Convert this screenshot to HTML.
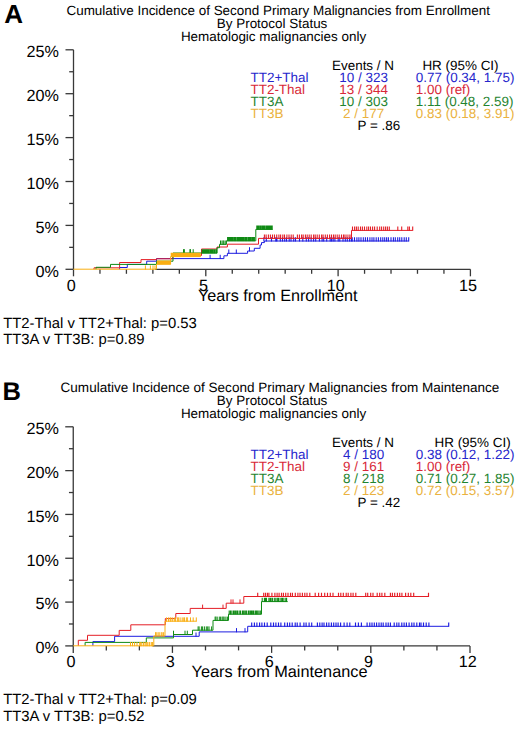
<!DOCTYPE html>
<html><head><meta charset="utf-8"><style>
html,body{margin:0;padding:0;background:#fff;}
svg{display:block;text-rendering:geometricPrecision;font-family:"Liberation Sans", sans-serif;}
</style></head><body>
<svg width="520" height="730" viewBox="0 0 520 730">
<rect width="520" height="730" fill="#fff"/>
<text x="4.20" y="22.60" font-size="26" fill="#000" text-anchor="start" font-weight="bold">A</text>
<text x="66.50" y="15.00" font-size="13.45" fill="#000" text-anchor="start" font-weight="normal">Cumulative Incidence of Second Primary Malignancies from Enrollment</text>
<text x="216.80" y="28.20" font-size="13.45" fill="#000" text-anchor="start" font-weight="normal">By Protocol Status</text>
<text x="180.90" y="40.80" font-size="13.45" fill="#000" text-anchor="start" font-weight="normal">Hematologic malignancies only</text>
<line x1="73.50" y1="49.80" x2="73.50" y2="269.30" stroke="#383838" stroke-width="1.3"/>
<line x1="65.50" y1="49.80" x2="73.50" y2="49.80" stroke="#383838" stroke-width="1.3"/>
<line x1="69.20" y1="71.75" x2="73.50" y2="71.75" stroke="#383838" stroke-width="1.3"/>
<line x1="65.50" y1="93.70" x2="73.50" y2="93.70" stroke="#383838" stroke-width="1.3"/>
<line x1="69.20" y1="115.65" x2="73.50" y2="115.65" stroke="#383838" stroke-width="1.3"/>
<line x1="65.50" y1="137.60" x2="73.50" y2="137.60" stroke="#383838" stroke-width="1.3"/>
<line x1="69.20" y1="159.55" x2="73.50" y2="159.55" stroke="#383838" stroke-width="1.3"/>
<line x1="65.50" y1="181.50" x2="73.50" y2="181.50" stroke="#383838" stroke-width="1.3"/>
<line x1="69.20" y1="203.45" x2="73.50" y2="203.45" stroke="#383838" stroke-width="1.3"/>
<line x1="65.50" y1="225.40" x2="73.50" y2="225.40" stroke="#383838" stroke-width="1.3"/>
<line x1="69.20" y1="247.35" x2="73.50" y2="247.35" stroke="#383838" stroke-width="1.3"/>
<line x1="65.50" y1="269.30" x2="73.50" y2="269.30" stroke="#383838" stroke-width="1.3"/>
<text x="58.80" y="57.10" font-size="16.2" fill="#000" text-anchor="end" font-weight="normal">25%</text>
<text x="58.80" y="101.00" font-size="16.2" fill="#000" text-anchor="end" font-weight="normal">20%</text>
<text x="58.80" y="144.90" font-size="16.2" fill="#000" text-anchor="end" font-weight="normal">15%</text>
<text x="58.80" y="188.80" font-size="16.2" fill="#000" text-anchor="end" font-weight="normal">10%</text>
<text x="58.80" y="232.70" font-size="16.2" fill="#000" text-anchor="end" font-weight="normal">5%</text>
<text x="58.80" y="276.60" font-size="16.2" fill="#000" text-anchor="end" font-weight="normal">0%</text>
<line x1="155.00" y1="269.30" x2="470.40" y2="269.30" stroke="#383838" stroke-width="1.3"/>
<line x1="73.50" y1="269.30" x2="73.50" y2="276.30" stroke="#383838" stroke-width="1.3"/>
<line x1="99.96" y1="269.30" x2="99.96" y2="273.80" stroke="#383838" stroke-width="1.3"/>
<line x1="126.42" y1="269.30" x2="126.42" y2="273.80" stroke="#383838" stroke-width="1.3"/>
<line x1="152.88" y1="269.30" x2="152.88" y2="273.80" stroke="#383838" stroke-width="1.3"/>
<line x1="179.34" y1="269.30" x2="179.34" y2="273.80" stroke="#383838" stroke-width="1.3"/>
<line x1="205.80" y1="269.30" x2="205.80" y2="276.30" stroke="#383838" stroke-width="1.3"/>
<line x1="232.26" y1="269.30" x2="232.26" y2="273.80" stroke="#383838" stroke-width="1.3"/>
<line x1="258.72" y1="269.30" x2="258.72" y2="273.80" stroke="#383838" stroke-width="1.3"/>
<line x1="285.18" y1="269.30" x2="285.18" y2="273.80" stroke="#383838" stroke-width="1.3"/>
<line x1="311.64" y1="269.30" x2="311.64" y2="273.80" stroke="#383838" stroke-width="1.3"/>
<line x1="338.10" y1="269.30" x2="338.10" y2="276.30" stroke="#383838" stroke-width="1.3"/>
<line x1="364.56" y1="269.30" x2="364.56" y2="273.80" stroke="#383838" stroke-width="1.3"/>
<line x1="391.02" y1="269.30" x2="391.02" y2="273.80" stroke="#383838" stroke-width="1.3"/>
<line x1="417.48" y1="269.30" x2="417.48" y2="273.80" stroke="#383838" stroke-width="1.3"/>
<line x1="443.94" y1="269.30" x2="443.94" y2="273.80" stroke="#383838" stroke-width="1.3"/>
<line x1="470.40" y1="269.30" x2="470.40" y2="276.30" stroke="#383838" stroke-width="1.3"/>
<text x="71.20" y="290.70" font-size="16.2" fill="#000" text-anchor="middle" font-weight="normal">0</text>
<text x="203.50" y="290.70" font-size="16.2" fill="#000" text-anchor="middle" font-weight="normal">5</text>
<text x="335.80" y="290.70" font-size="16.2" fill="#000" text-anchor="middle" font-weight="normal">10</text>
<text x="468.10" y="290.70" font-size="16.2" fill="#000" text-anchor="middle" font-weight="normal">15</text>
<text x="332.00" y="70.40" font-size="13.45" fill="#000" text-anchor="start" font-weight="normal">Events / N</text>
<text x="422.40" y="70.40" font-size="13.45" fill="#000" text-anchor="start" font-weight="normal">HR (95% CI)</text>
<text x="250.50" y="82.00" font-size="13.45" fill="#2626cc" text-anchor="start" font-weight="normal">TT2+Thal</text>
<text x="363.60" y="82.00" font-size="13.45" fill="#2626cc" text-anchor="middle" font-weight="normal">10 / 323</text>
<text x="415.80" y="82.00" font-size="13.45" fill="#2626cc" text-anchor="start" font-weight="normal">0.77 (0.34, 1.75)</text>
<text x="250.50" y="93.90" font-size="13.45" fill="#d82838" text-anchor="start" font-weight="normal">TT2-Thal</text>
<text x="363.60" y="93.90" font-size="13.45" fill="#d82838" text-anchor="middle" font-weight="normal">13 / 344</text>
<text x="415.80" y="93.90" font-size="13.45" fill="#d82838" text-anchor="start" font-weight="normal">1.00 (ref)</text>
<text x="250.50" y="105.80" font-size="13.45" fill="#1f8430" text-anchor="start" font-weight="normal">TT3A</text>
<text x="363.60" y="105.80" font-size="13.45" fill="#1f8430" text-anchor="middle" font-weight="normal">10 / 303</text>
<text x="415.80" y="105.80" font-size="13.45" fill="#1f8430" text-anchor="start" font-weight="normal">1.11 (0.48, 2.59)</text>
<text x="250.50" y="117.70" font-size="13.45" fill="#eab240" text-anchor="start" font-weight="normal">TT3B</text>
<text x="363.60" y="117.70" font-size="13.45" fill="#eab240" text-anchor="middle" font-weight="normal">2 / 177</text>
<text x="415.80" y="117.70" font-size="13.45" fill="#eab240" text-anchor="start" font-weight="normal">0.83 (0.18, 3.91)</text>
<text x="357.50" y="130.30" font-size="13.45" fill="#000" text-anchor="start" font-weight="normal">P = .86</text>
<text x="198.00" y="300.80" font-size="16.2" fill="#000" text-anchor="start" font-weight="normal">Years from Enrollment</text>
<text x="3.20" y="327.80" font-size="14.85" fill="#000" text-anchor="start" font-weight="normal">TT2-Thal v TT2+Thal: p=0.53</text>
<text x="3.20" y="344.40" font-size="14.85" fill="#000" text-anchor="start" font-weight="normal">TT3A v TT3B: p=0.89</text>
<path d="M119.58999999999999,269.3H119.6V267.5H127.3V264.4H146.7V261.2H156.5V258.6H223.9V255.8H227.4V253.3H247.6V251.0H254.3V248.3H260.1V245.0H261.5V242.6H264.4V241.0H408.7" fill="none" stroke="#1c1ce0" stroke-width="1.0"/>
<path d="M210.1,259.0v-4.2M220.2,259.0v-4.2" fill="none" stroke="#1c1ce0" stroke-width="1.0"/>
<path d="M228.8,253.7v-4.2M236.3,253.7v-4.2" fill="none" stroke="#1c1ce0" stroke-width="1.0"/>
<path d="M249.5,251.4v-4.2" fill="none" stroke="#1c1ce0" stroke-width="1.0"/>
<path d="M263.9,241.4v-4.2M266.3,241.4v-4.2M271.5,241.4v-4.2M275.8,241.4v-4.2M276.9,241.4v-4.2M280.3,241.4v-4.2M282.5,241.4v-4.2M284.7,241.4v-4.2M286.5,241.4v-4.2M289.2,241.4v-4.2M291.0,241.4v-4.2M293.7,241.4v-4.2M295.5,241.4v-4.2M299.5,241.4v-4.2M302.8,241.4v-4.2M306.3,241.4v-4.2M308.6,241.4v-4.2M311.1,241.4v-4.2M313.6,241.4v-4.2M315.7,241.4v-4.2M319.4,241.4v-4.2M322.1,241.4v-4.2M323.7,241.4v-4.2M326.7,241.4v-4.2M330.2,241.4v-4.2M331.6,241.4v-4.2M333.2,241.4v-4.2M334.9,241.4v-4.2M338.2,241.4v-4.2M339.8,241.4v-4.2M343.0,241.4v-4.2M345.3,241.4v-4.2M347.3,241.4v-4.2M349.6,241.4v-4.2M351.4,241.4v-4.2M352.2,241.4v-4.2M354.5,241.4v-4.2M356.9,241.4v-4.2M358.9,241.4v-4.2M361.0,241.4v-4.2M363.3,241.4v-4.2M365.4,241.4v-4.2M367.5,241.4v-4.2M369.9,241.4v-4.2M372.0,241.4v-4.2M373.9,241.4v-4.2M376.2,241.4v-4.2M378.4,241.4v-4.2M380.7,241.4v-4.2M382.8,241.4v-4.2M384.7,241.4v-4.2M386.6,241.4v-4.2M388.4,241.4v-4.2M391.0,241.4v-4.2M393.4,241.4v-4.2M395.3,241.4v-4.2M397.7,241.4v-4.2M399.7,241.4v-4.2M401.8,241.4v-4.2M404.2,241.4v-4.2M406.3,241.4v-4.2M408.7,241.4v-4.2" fill="none" stroke="#1c1ce0" stroke-width="1.1"/>
<path d="M93.99,269.3H94.0V267.8H119.6V262.5H141.0V259.6H156.5V258.8H172.8V255.5H201.5V249.0H217.0V247.0H227.4V244.2H258.5V238.4H351.5V230.4H412.7" fill="none" stroke="#e41e26" stroke-width="1.0"/>
<path d="M264.4,238.8v-4.2M266.1,238.8v-4.2M268.4,238.8v-4.2M270.4,238.8v-4.2M272.5,238.8v-4.2M274.5,238.8v-4.2M276.7,238.8v-4.2M278.9,238.8v-4.2M280.6,238.8v-4.2M282.8,238.8v-4.2M284.5,238.8v-4.2M286.9,238.8v-4.2M289.0,238.8v-4.2M291.2,238.8v-4.2M293.2,238.8v-4.2M297.4,238.8v-4.2M299.4,238.8v-4.2M301.6,238.8v-4.2M303.2,238.8v-4.2M305.4,238.8v-4.2M307.2,238.8v-4.2M309.2,238.8v-4.2M311.2,238.8v-4.2M313.6,238.8v-4.2M315.2,238.8v-4.2M317.2,238.8v-4.2M319.3,238.8v-4.2M321.6,238.8v-4.2M323.1,238.8v-4.2M325.3,238.8v-4.2M327.4,238.8v-4.2M329.6,238.8v-4.2M331.5,238.8v-4.2M333.5,238.8v-4.2M335.2,238.8v-4.2M337.2,238.8v-4.2M339.2,238.8v-4.2M341.5,238.8v-4.2M343.5,238.8v-4.2M345.0,238.8v-4.2M347.0,238.8v-4.2M349.1,238.8v-4.2M351.0,238.8v-4.2" fill="none" stroke="#e41e26" stroke-width="1.1"/>
<path d="M352.5,230.8v-4.2M354.6,230.8v-4.2M356.4,230.8v-4.2M358.2,230.8v-4.2M360.5,230.8v-4.2M362.4,230.8v-4.2M364.5,230.8v-4.2M366.8,230.8v-4.2M368.6,230.8v-4.2M370.5,230.8v-4.2M372.6,230.8v-4.2M374.6,230.8v-4.2M377.2,230.8v-4.2M379.7,230.8v-4.2M381.6,230.8v-4.2M383.7,230.8v-4.2M385.6,230.8v-4.2M387.4,230.8v-4.2M389.3,230.8v-4.2M397.8,230.8v-4.2M401.7,230.8v-4.2M407.8,230.8v-4.2M409.4,230.8v-4.2M412.7,230.8v-4.2" fill="none" stroke="#e41e26" stroke-width="1.1"/>
<path d="M95.99,269.3H96.0V267.3H110.5V264.4H156.5V261.2H173.0V253.0H217.0V247.7H219.5V244.3H226.4V240.8H255.8V229.4H272.6" fill="none" stroke="#0f8a14" stroke-width="1.0"/>
<path d="M183.5,253.4v-4.2M184.4,253.4v-4.2M189.9,253.4v-4.2M190.5,253.4v-4.2M193.2,253.4v-4.2" fill="none" stroke="#0f8a14" stroke-width="1.0"/>
<path d="M202.2,253.4v-4.2M202.6,253.4v-4.2M203.4,253.4v-4.2M204.1,253.4v-4.2M205.0,253.4v-4.2M205.8,253.4v-4.2M206.9,253.4v-4.2M207.2,253.4v-4.2M208.1,253.4v-4.2M208.8,253.4v-4.2M210.0,253.4v-4.2M210.5,253.4v-4.2M211.0,253.4v-4.2M211.9,253.4v-4.2M212.6,253.4v-4.2M213.8,253.4v-4.2M214.1,253.4v-4.2M214.8,253.4v-4.2M216.1,253.4v-4.2M216.7,253.4v-4.2" fill="none" stroke="#0f8a14" stroke-width="1.1"/>
<path d="M220.5,244.7v-4.2M222.0,244.7v-4.2M223.2,244.7v-4.2M224.0,244.7v-4.2M225.8,244.7v-4.2" fill="none" stroke="#0f8a14" stroke-width="1.0"/>
<path d="M227.6,241.2v-4.2M228.5,241.2v-4.2M229.2,241.2v-4.2M229.8,241.2v-4.2M230.8,241.2v-4.2M231.9,241.2v-4.2M232.7,241.2v-4.2M233.9,241.2v-4.2M234.4,241.2v-4.2M235.1,241.2v-4.2M236.0,241.2v-4.2M237.3,241.2v-4.2M237.9,241.2v-4.2M239.0,241.2v-4.2M239.8,241.2v-4.2M240.7,241.2v-4.2M241.4,241.2v-4.2M242.5,241.2v-4.2M243.4,241.2v-4.2M244.0,241.2v-4.2M245.2,241.2v-4.2M245.6,241.2v-4.2M246.5,241.2v-4.2M247.8,241.2v-4.2M248.6,241.2v-4.2M249.4,241.2v-4.2M250.2,241.2v-4.2M250.8,241.2v-4.2M252.0,241.2v-4.2M253.1,241.2v-4.2M253.9,241.2v-4.2M254.4,241.2v-4.2" fill="none" stroke="#0f8a14" stroke-width="1.1"/>
<path d="M256.8,229.8v-4.2M257.9,229.8v-4.2M258.7,229.8v-4.2M259.9,229.8v-4.2M260.5,229.8v-4.2M261.7,229.8v-4.2M262.6,229.8v-4.2M263.2,229.8v-4.2M263.8,229.8v-4.2M264.8,229.8v-4.2M266.1,229.8v-4.2M266.8,229.8v-4.2M267.7,229.8v-4.2M268.6,229.8v-4.2M269.6,229.8v-4.2M270.4,229.8v-4.2M271.1,229.8v-4.2M272.2,229.8v-4.2" fill="none" stroke="#0f8a14" stroke-width="1.1"/>
<path d="M73.5,269.2H156.5V264.2H170.6V256.6H200.5" fill="none" stroke="#f9ae12" stroke-width="1.0"/>
<path d="M145.4,269.6v-4.2M150.4,269.6v-4.2M153.0,269.6v-4.2M155.0,269.6v-4.2" fill="none" stroke="#f9ae12" stroke-width="1.0"/>
<path d="M157.4,264.6v-4.2M157.8,264.6v-4.2M158.3,264.6v-4.2M158.9,264.6v-4.2M159.3,264.6v-4.2M160.0,264.6v-4.2M160.5,264.6v-4.2M160.8,264.6v-4.2M161.6,264.6v-4.2M161.8,264.6v-4.2M162.4,264.6v-4.2M162.9,264.6v-4.2M163.6,264.6v-4.2M164.2,264.6v-4.2M164.6,264.6v-4.2M164.9,264.6v-4.2M165.7,264.6v-4.2M166.3,264.6v-4.2M166.6,264.6v-4.2M167.2,264.6v-4.2M167.6,264.6v-4.2M168.1,264.6v-4.2M168.6,264.6v-4.2M169.0,264.6v-4.2M169.7,264.6v-4.2M170.2,264.6v-4.2" fill="none" stroke="#f9ae12" stroke-width="1.2"/>
<path d="M171.3,257.0v-4.2M172.0,257.0v-4.2M172.6,257.0v-4.2M172.9,257.0v-4.2M173.7,257.0v-4.2M174.0,257.0v-4.2M174.9,257.0v-4.2M175.2,257.0v-4.2M176.0,257.0v-4.2M176.5,257.0v-4.2M176.8,257.0v-4.2M177.5,257.0v-4.2M178.3,257.0v-4.2M178.8,257.0v-4.2M179.4,257.0v-4.2M179.9,257.0v-4.2M180.3,257.0v-4.2M181.1,257.0v-4.2M181.3,257.0v-4.2M182.0,257.0v-4.2M182.5,257.0v-4.2M183.1,257.0v-4.2M183.7,257.0v-4.2M184.2,257.0v-4.2M184.8,257.0v-4.2M185.3,257.0v-4.2M185.8,257.0v-4.2M186.6,257.0v-4.2M187.2,257.0v-4.2M187.6,257.0v-4.2M188.3,257.0v-4.2M189.0,257.0v-4.2M189.4,257.0v-4.2M190.2,257.0v-4.2M190.7,257.0v-4.2M191.2,257.0v-4.2M191.6,257.0v-4.2M192.1,257.0v-4.2M192.9,257.0v-4.2M193.3,257.0v-4.2M194.1,257.0v-4.2M194.6,257.0v-4.2M195.0,257.0v-4.2M195.7,257.0v-4.2M196.2,257.0v-4.2M197.0,257.0v-4.2M197.4,257.0v-4.2M198.1,257.0v-4.2M198.5,257.0v-4.2M199.0,257.0v-4.2M199.7,257.0v-4.2M200.2,257.0v-4.2" fill="none" stroke="#f9ae12" stroke-width="1.2"/>
<text x="2.40" y="399.90" font-size="25.5" fill="#000" text-anchor="start" font-weight="bold">B</text>
<text x="60.60" y="391.80" font-size="13.53" fill="#000" text-anchor="start" font-weight="normal">Cumulative Incidence of Second Primary Malignancies from Maintenance</text>
<text x="216.80" y="405.00" font-size="13.45" fill="#000" text-anchor="start" font-weight="normal">By Protocol Status</text>
<text x="180.90" y="417.60" font-size="13.45" fill="#000" text-anchor="start" font-weight="normal">Hematologic malignancies only</text>
<line x1="73.25" y1="426.80" x2="73.25" y2="645.90" stroke="#383838" stroke-width="1.3"/>
<line x1="65.25" y1="426.80" x2="73.25" y2="426.80" stroke="#383838" stroke-width="1.3"/>
<line x1="68.95" y1="448.71" x2="73.25" y2="448.71" stroke="#383838" stroke-width="1.3"/>
<line x1="65.25" y1="470.62" x2="73.25" y2="470.62" stroke="#383838" stroke-width="1.3"/>
<line x1="68.95" y1="492.53" x2="73.25" y2="492.53" stroke="#383838" stroke-width="1.3"/>
<line x1="65.25" y1="514.44" x2="73.25" y2="514.44" stroke="#383838" stroke-width="1.3"/>
<line x1="68.95" y1="536.35" x2="73.25" y2="536.35" stroke="#383838" stroke-width="1.3"/>
<line x1="65.25" y1="558.26" x2="73.25" y2="558.26" stroke="#383838" stroke-width="1.3"/>
<line x1="68.95" y1="580.17" x2="73.25" y2="580.17" stroke="#383838" stroke-width="1.3"/>
<line x1="65.25" y1="602.08" x2="73.25" y2="602.08" stroke="#383838" stroke-width="1.3"/>
<line x1="68.95" y1="623.99" x2="73.25" y2="623.99" stroke="#383838" stroke-width="1.3"/>
<line x1="65.25" y1="645.90" x2="73.25" y2="645.90" stroke="#383838" stroke-width="1.3"/>
<text x="58.80" y="434.10" font-size="16.2" fill="#000" text-anchor="end" font-weight="normal">25%</text>
<text x="58.80" y="477.92" font-size="16.2" fill="#000" text-anchor="end" font-weight="normal">20%</text>
<text x="58.80" y="521.74" font-size="16.2" fill="#000" text-anchor="end" font-weight="normal">15%</text>
<text x="58.80" y="565.56" font-size="16.2" fill="#000" text-anchor="end" font-weight="normal">10%</text>
<text x="58.80" y="609.38" font-size="16.2" fill="#000" text-anchor="end" font-weight="normal">5%</text>
<text x="58.80" y="653.20" font-size="16.2" fill="#000" text-anchor="end" font-weight="normal">0%</text>
<line x1="152.50" y1="645.90" x2="470.00" y2="645.90" stroke="#383838" stroke-width="1.3"/>
<line x1="73.25" y1="645.90" x2="73.25" y2="652.90" stroke="#383838" stroke-width="1.3"/>
<line x1="106.31" y1="645.90" x2="106.31" y2="650.40" stroke="#383838" stroke-width="1.3"/>
<line x1="139.38" y1="645.90" x2="139.38" y2="650.40" stroke="#383838" stroke-width="1.3"/>
<line x1="172.44" y1="645.90" x2="172.44" y2="652.90" stroke="#383838" stroke-width="1.3"/>
<line x1="205.50" y1="645.90" x2="205.50" y2="650.40" stroke="#383838" stroke-width="1.3"/>
<line x1="238.56" y1="645.90" x2="238.56" y2="650.40" stroke="#383838" stroke-width="1.3"/>
<line x1="271.62" y1="645.90" x2="271.62" y2="652.90" stroke="#383838" stroke-width="1.3"/>
<line x1="304.69" y1="645.90" x2="304.69" y2="650.40" stroke="#383838" stroke-width="1.3"/>
<line x1="337.75" y1="645.90" x2="337.75" y2="650.40" stroke="#383838" stroke-width="1.3"/>
<line x1="370.81" y1="645.90" x2="370.81" y2="652.90" stroke="#383838" stroke-width="1.3"/>
<line x1="403.88" y1="645.90" x2="403.88" y2="650.40" stroke="#383838" stroke-width="1.3"/>
<line x1="436.94" y1="645.90" x2="436.94" y2="650.40" stroke="#383838" stroke-width="1.3"/>
<line x1="470.00" y1="645.90" x2="470.00" y2="652.90" stroke="#383838" stroke-width="1.3"/>
<text x="70.95" y="667.30" font-size="16.2" fill="#000" text-anchor="middle" font-weight="normal">0</text>
<text x="170.14" y="667.30" font-size="16.2" fill="#000" text-anchor="middle" font-weight="normal">3</text>
<text x="269.32" y="667.30" font-size="16.2" fill="#000" text-anchor="middle" font-weight="normal">6</text>
<text x="368.51" y="667.30" font-size="16.2" fill="#000" text-anchor="middle" font-weight="normal">9</text>
<text x="467.70" y="667.30" font-size="16.2" fill="#000" text-anchor="middle" font-weight="normal">12</text>
<text x="332.00" y="447.20" font-size="13.45" fill="#000" text-anchor="start" font-weight="normal">Events / N</text>
<text x="434.50" y="447.20" font-size="13.45" fill="#000" text-anchor="start" font-weight="normal">HR (95% CI)</text>
<text x="250.50" y="458.80" font-size="13.45" fill="#2626cc" text-anchor="start" font-weight="normal">TT2+Thal</text>
<text x="363.60" y="458.80" font-size="13.45" fill="#2626cc" text-anchor="middle" font-weight="normal">4 / 180</text>
<text x="415.80" y="458.80" font-size="13.45" fill="#2626cc" text-anchor="start" font-weight="normal">0.38 (0.12, 1.22)</text>
<text x="250.50" y="470.70" font-size="13.45" fill="#d82838" text-anchor="start" font-weight="normal">TT2-Thal</text>
<text x="363.60" y="470.70" font-size="13.45" fill="#d82838" text-anchor="middle" font-weight="normal">9 / 161</text>
<text x="415.80" y="470.70" font-size="13.45" fill="#d82838" text-anchor="start" font-weight="normal">1.00 (ref)</text>
<text x="250.50" y="482.60" font-size="13.45" fill="#1f8430" text-anchor="start" font-weight="normal">TT3A</text>
<text x="363.60" y="482.60" font-size="13.45" fill="#1f8430" text-anchor="middle" font-weight="normal">8 / 218</text>
<text x="415.80" y="482.60" font-size="13.45" fill="#1f8430" text-anchor="start" font-weight="normal">0.71 (0.27, 1.85)</text>
<text x="250.50" y="494.50" font-size="13.45" fill="#eab240" text-anchor="start" font-weight="normal">TT3B</text>
<text x="363.60" y="494.50" font-size="13.45" fill="#eab240" text-anchor="middle" font-weight="normal">2 / 123</text>
<text x="415.80" y="494.50" font-size="13.45" fill="#eab240" text-anchor="start" font-weight="normal">0.72 (0.15, 3.57)</text>
<text x="357.50" y="507.10" font-size="13.45" fill="#000" text-anchor="start" font-weight="normal">P = .42</text>
<text x="191.60" y="677.40" font-size="16.3" fill="#000" text-anchor="start" font-weight="normal">Years from Maintenance</text>
<text x="3.20" y="704.00" font-size="14.85" fill="#000" text-anchor="start" font-weight="normal">TT2-Thal v TT2+Thal: p=0.09</text>
<text x="3.20" y="720.80" font-size="14.85" fill="#000" text-anchor="start" font-weight="normal">TT3A v TT3B: p=0.52</text>
<path d="M92.89,645.8H92.9V641.6H114.6V636.3H199.2V631.9H247.7V626.3H448.7" fill="none" stroke="#1c1ce0" stroke-width="1.0"/>
<path d="M196.0,636.7v-4.2" fill="none" stroke="#1c1ce0" stroke-width="1.0"/>
<path d="M236.5,632.3v-4.2M245.0,632.3v-4.2" fill="none" stroke="#1c1ce0" stroke-width="1.0"/>
<path d="M251.7,626.7v-4.2M254.4,626.7v-4.2M256.9,626.7v-4.2M259.6,626.7v-4.2M261.9,626.7v-4.2M264.5,626.7v-4.2M267.2,626.7v-4.2M270.8,626.7v-4.2M273.5,626.7v-4.2M275.9,626.7v-4.2M278.5,626.7v-4.2M280.9,626.7v-4.2M284.7,626.7v-4.2M287.4,626.7v-4.2M289.7,626.7v-4.2M292.2,626.7v-4.2M295.2,626.7v-4.2M297.2,626.7v-4.2M300.1,626.7v-4.2M303.9,626.7v-4.2M306.1,626.7v-4.2M309.1,626.7v-4.2M311.7,626.7v-4.2M317.4,626.7v-4.2M319.8,626.7v-4.2M322.1,626.7v-4.2M324.0,626.7v-4.2M326.6,626.7v-4.2M328.9,626.7v-4.2M331.4,626.7v-4.2M333.7,626.7v-4.2M336.0,626.7v-4.2M338.1,626.7v-4.2M340.6,626.7v-4.2M344.1,626.7v-4.2M347.1,626.7v-4.2M349.8,626.7v-4.2M355.5,626.7v-4.2M358.4,626.7v-4.2M361.4,626.7v-4.2M367.1,626.7v-4.2M369.8,626.7v-4.2M372.0,626.7v-4.2M374.3,626.7v-4.2M376.6,626.7v-4.2M379.0,626.7v-4.2M381.2,626.7v-4.2M383.2,626.7v-4.2M386.0,626.7v-4.2M388.2,626.7v-4.2M390.4,626.7v-4.2M394.2,626.7v-4.2M396.8,626.7v-4.2M398.9,626.7v-4.2M401.8,626.7v-4.2M404.1,626.7v-4.2M406.4,626.7v-4.2M409.1,626.7v-4.2M411.8,626.7v-4.2M414.0,626.7v-4.2M416.8,626.7v-4.2M419.5,626.7v-4.2M421.0,626.7v-4.2M423.5,626.7v-4.2M426.2,626.7v-4.2M428.9,626.7v-4.2M448.7,626.7v-4.2" fill="none" stroke="#1c1ce0" stroke-width="1.15"/>
<path d="M78.28999999999999,645.8H78.3V640.3H87.5V635.3H119.2V630.4H130.8V624.8H165.3V618.6H175.8V613.5H190.2V608.4H226.2V603.2H243.8V596.5H428.5" fill="none" stroke="#e41e26" stroke-width="1.0"/>
<path d="M202.6,608.8v-4.2M223.0,608.8v-4.2" fill="none" stroke="#e41e26" stroke-width="1.0"/>
<path d="M231.0,603.6v-4.2M233.0,603.6v-4.2M240.0,603.6v-4.2" fill="none" stroke="#e41e26" stroke-width="1.0"/>
<path d="M257.7,596.9v-4.2M263.7,596.9v-4.2M265.5,596.9v-4.2M267.4,596.9v-4.2M268.9,596.9v-4.2M271.9,596.9v-4.2M274.9,596.9v-4.2M277.1,596.9v-4.2M279.1,596.9v-4.2M281.5,596.9v-4.2M283.4,596.9v-4.2M285.7,596.9v-4.2M288.0,596.9v-4.2M290.5,596.9v-4.2M292.4,596.9v-4.2M295.3,596.9v-4.2M297.9,596.9v-4.2M300.0,596.9v-4.2M302.4,596.9v-4.2M304.8,596.9v-4.2M307.0,596.9v-4.2M309.8,596.9v-4.2M315.2,596.9v-4.2M318.6,596.9v-4.2M321.5,596.9v-4.2M324.7,596.9v-4.2M327.5,596.9v-4.2M330.3,596.9v-4.2M333.0,596.9v-4.2M338.5,596.9v-4.2M340.8,596.9v-4.2M343.3,596.9v-4.2M346.2,596.9v-4.2M348.2,596.9v-4.2M350.9,596.9v-4.2M353.1,596.9v-4.2M355.8,596.9v-4.2M365.7,596.9v-4.2M367.7,596.9v-4.2M370.7,596.9v-4.2M373.0,596.9v-4.2M377.2,596.9v-4.2M379.7,596.9v-4.2M381.9,596.9v-4.2M384.8,596.9v-4.2M390.4,596.9v-4.2M392.4,596.9v-4.2M394.7,596.9v-4.2M397.4,596.9v-4.2M399.7,596.9v-4.2M401.9,596.9v-4.2M405.6,596.9v-4.2M408.3,596.9v-4.2M410.8,596.9v-4.2M413.7,596.9v-4.2M428.5,596.9v-4.2" fill="none" stroke="#e41e26" stroke-width="1.15"/>
<path d="M85.08999999999999,645.8H85.1V642.4H146.3V637.9H173.5V634.5H192.5V630.2H213.0V620.4H228.5V614.2H261.5V601.6H287.7" fill="none" stroke="#0f8a14" stroke-width="1.0"/>
<path d="M173.5,634.9v-4.2M185.0,634.9v-4.2M187.3,634.9v-4.2" fill="none" stroke="#0f8a14" stroke-width="1.0"/>
<path d="M198.1,630.6v-4.2M199.1,630.6v-4.2M201.4,630.6v-4.2M202.6,630.6v-4.2M204.4,630.6v-4.2M206.3,630.6v-4.2M207.7,630.6v-4.2M209.0,630.6v-4.2M211.6,630.6v-4.2" fill="none" stroke="#0f8a14" stroke-width="1.0"/>
<path d="M215.1,620.8v-4.2M215.9,620.8v-4.2M217.2,620.8v-4.2M219.3,620.8v-4.2M220.6,620.8v-4.2M222.1,620.8v-4.2M223.1,620.8v-4.2M224.1,620.8v-4.2M225.9,620.8v-4.2M227.4,620.8v-4.2" fill="none" stroke="#0f8a14" stroke-width="1.0"/>
<path d="M229.2,614.6v-4.2M230.5,614.6v-4.2M231.9,614.6v-4.2M233.5,614.6v-4.2M234.3,614.6v-4.2M235.6,614.6v-4.2M236.9,614.6v-4.2M237.9,614.6v-4.2M239.8,614.6v-4.2M240.5,614.6v-4.2M242.4,614.6v-4.2M242.8,614.6v-4.2M244.0,614.6v-4.2M245.3,614.6v-4.2M246.6,614.6v-4.2M248.4,614.6v-4.2M249.2,614.6v-4.2M250.6,614.6v-4.2M251.6,614.6v-4.2M252.8,614.6v-4.2M253.9,614.6v-4.2M255.6,614.6v-4.2M256.4,614.6v-4.2M257.7,614.6v-4.2M259.1,614.6v-4.2M260.7,614.6v-4.2" fill="none" stroke="#0f8a14" stroke-width="1.1"/>
<path d="M262.2,602.0v-4.2M264.4,602.0v-4.2M265.5,602.0v-4.2M266.5,602.0v-4.2M268.9,602.0v-4.2M270.2,602.0v-4.2M271.0,602.0v-4.2M272.4,602.0v-4.2M274.3,602.0v-4.2M275.8,602.0v-4.2M277.3,602.0v-4.2M278.5,602.0v-4.2M280.1,602.0v-4.2M281.7,602.0v-4.2M282.5,602.0v-4.2M283.9,602.0v-4.2M285.8,602.0v-4.2M286.6,602.0v-4.2" fill="none" stroke="#0f8a14" stroke-width="1.1"/>
<path d="M73.25,645.8H153.8V636.0H165.0V621.2H196.5" fill="none" stroke="#f9ae12" stroke-width="1.0"/>
<path d="M130.5,646.2v-4.2M132.5,646.2v-4.2M134.6,646.2v-4.2M137.0,646.2v-4.2M139.7,646.2v-4.2M140.7,646.2v-4.2M141.8,646.2v-4.2M143.6,646.2v-4.2M145.1,646.2v-4.2M146.2,646.2v-4.2M147.3,646.2v-4.2M149.1,646.2v-4.2M149.8,646.2v-4.2M151.7,646.2v-4.2M152.6,646.2v-4.2" fill="none" stroke="#f9ae12" stroke-width="1.0"/>
<path d="M155.6,636.4v-4.2M156.2,636.4v-4.2M158.0,636.4v-4.2M159.2,636.4v-4.2M161.2,636.4v-4.2M162.1,636.4v-4.2M163.6,636.4v-4.2" fill="none" stroke="#f9ae12" stroke-width="1.0"/>
<path d="M166.5,621.6v-4.2M168.5,621.6v-4.2M170.2,621.6v-4.2M170.9,621.6v-4.2M172.7,621.6v-4.2M174.7,621.6v-4.2M175.6,621.6v-4.2M177.7,621.6v-4.2M178.3,621.6v-4.2M180.1,621.6v-4.2M182.2,621.6v-4.2M183.8,621.6v-4.2M184.6,621.6v-4.2M186.7,621.6v-4.2M187.3,621.6v-4.2M190.5,621.6v-4.2M193.2,621.6v-4.2M196.3,621.6v-4.2" fill="none" stroke="#f9ae12" stroke-width="1.0"/>
</svg>
</body></html>
